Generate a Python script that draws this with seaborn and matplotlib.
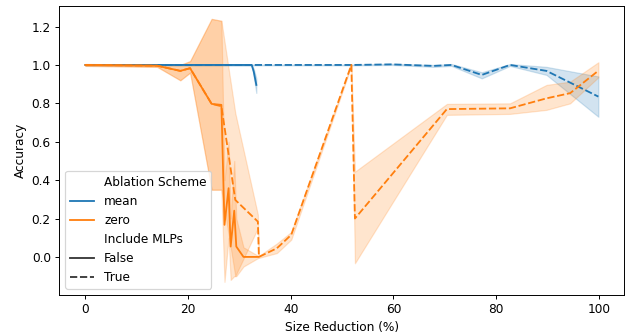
import numpy as np
import pandas as pd
import matplotlib
matplotlib.use("Agg")
import matplotlib.pyplot as plt
import seaborn as sns

# mean ablation, MLPs excluded
mf_x = [0, 10, 20, 26.5, 32.4, 32.8, 33.3]
mf_m = [1.0, 1.0, 1.0, 1.0, 1.0, 0.965, 0.896]
mf_lo = [0.998, 0.998, 0.998, 0.998, 0.998, 0.94, 0.854]
mf_hi = [1.002, 1.002, 1.002, 1.002, 1.002, 0.98, 0.93]

# mean ablation, MLPs included
mt_x = [0, 10, 20, 26.5, 32.4, 33.5, 40, 52, 59.7, 67.8, 71.3, 77.2, 82.7, 89.8, 99.9]
mt_m = [1.0, 1.0, 1.0, 1.0, 1.0, 1.0, 1.0, 1.0, 1.003, 0.995, 1.0, 0.948, 1.0, 0.969, 0.835]
mt_lo = [0.998, 0.998, 0.998, 0.998, 0.998, 0.998, 0.998, 0.998, 1.0, 0.99, 0.995, 0.93, 0.995, 0.948, 0.73]
mt_hi = [1.002, 1.002, 1.002, 1.002, 1.002, 1.002, 1.002, 1.002, 1.006, 1.0, 1.005, 0.962, 1.005, 0.99, 0.94]

# zero ablation, MLPs excluded
zf_x = [0, 14, 18.5, 20.4, 24.6, 26.5, 27.1, 27.9, 28.3, 29.0, 29.4, 30.8, 33.7]
zf_m = [1.0, 0.996, 0.969, 0.983, 0.797, 0.792, 0.167, 0.358, 0.054, 0.241, 0.054, 0.0, 0.0]
zf_lo = [0.995, 0.99, 0.92, 0.96, 0.35, 0.35, -0.13, 0.1, -0.12, -0.1, -0.1, -0.05, -0.005]
zf_hi = [1.005, 1.002, 1.0, 1.02, 1.24, 1.23, 0.4, 0.6, 0.2, 0.5, 0.2, 0.05, 0.005]

# zero ablation, MLPs included
zt_x = [0, 14, 18.5, 20.4, 24.6, 26.5, 29.2, 33.6, 33.8, 37.3, 40.1, 51.8, 52.5, 70.4, 82.7, 89.8, 94.4, 99.9]
zt_m = [1.0, 0.996, 0.969, 0.983, 0.797, 0.785, 0.297, 0.184, 0.0, 0.045, 0.115, 1.0, 0.2, 0.77, 0.774, 0.826, 0.853, 0.97]
zt_lo = [0.995, 0.99, 0.92, 0.96, 0.35, 0.35, -0.1, 0.15, -0.005, 0.02, 0.09, 0.995, -0.033, 0.74, 0.745, 0.766, 0.80, 0.936]
zt_hi = [1.005, 1.002, 1.0, 1.02, 1.24, 1.23, 0.75, 0.22, 0.005, 0.07, 0.13, 1.005, 0.444, 0.797, 0.80, 0.896, 0.913, 1.014]

rows = []
for scheme, mlp, xs, ms, los, his in [
    ("mean", False, mf_x, mf_m, mf_lo, mf_hi),
    ("mean", True, mt_x, mt_m, mt_lo, mt_hi),
    ("zero", False, zf_x, zf_m, zf_lo, zf_hi),
    ("zero", True, zt_x, zt_m, zt_lo, zt_hi),
]:
    for x, m, lo, hi in zip(xs, ms, los, his):
        c = 3 * m - lo - hi
        for v in (lo, hi, c):
            rows.append({"Size Reduction (%)": x, "Accuracy": v,
                         "Ablation Scheme": scheme, "Include MLPs": mlp})
df = pd.DataFrame(rows)

DPI = 87
fig = plt.figure(figsize=(631 / DPI, 334 / DPI), dpi=DPI)
ax = fig.add_axes([0.094, 0.117, 0.895, 0.865])
sns.lineplot(data=df, x="Size Reduction (%)", y="Accuracy",
             hue="Ablation Scheme", style="Include MLPs",
             hue_order=["mean", "zero"], style_order=[False, True],
             errorbar=("pi", 100), ax=ax)
ax.set_xlim(-5.06, 104.9)
ax.set_ylim(-0.198, 1.307)
ax.legend(loc="lower left")
fig.savefig("out.png", dpi=DPI)
